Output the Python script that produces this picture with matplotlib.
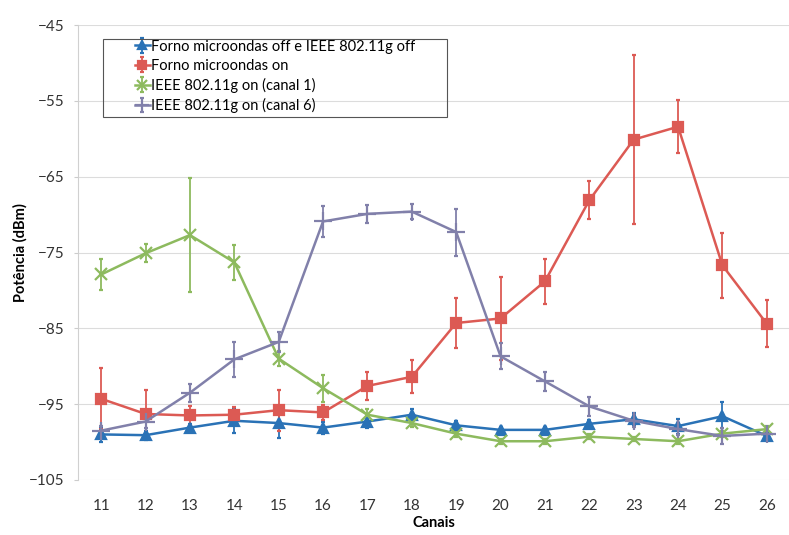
import matplotlib
matplotlib.use('Agg')
import matplotlib.pyplot as plt
from matplotlib.patches import Rectangle

plt.rcParams['font.family'] = ['Lato', 'DejaVu Sans']

# Channels (x) and mean power readings in dBm, with error half-widths
canais = list(range(11, 27))

off_mean = [-99.0, -99.1, -98.1, -97.2, -97.5, -98.1, -97.3, -96.4,
            -97.8, -98.4, -98.4, -97.6, -97.0, -97.9, -96.6, -99.2]
off_err = [1.0, 0.6, 0.5, 1.6, 2.0, 0.8, 0.8, 0.8,
           0.6, 0.4, 0.4, 0.5, 0.8, 1.0, 1.9, 0.3]

forno_mean = [-94.3, -96.3, -96.5, -96.4, -95.8, -96.1, -92.6, -91.4,
              -84.3, -83.7, -78.8, -68.1, -60.1, -58.4, -76.7, -84.4]
forno_err = [4.0, 3.2, 1.2, 1.0, 2.7, 1.0, 1.8, 2.2,
             3.3, 5.5, 3.0, 2.5, 11.2, 3.5, 4.3, 3.1]

canal1_mean = [-77.9, -75.1, -72.7, -76.3, -89.0, -92.9, -96.4, -97.5,
               -98.9, -99.9, -99.9, -99.3, -99.6, -99.9, -98.9, -98.3]
canal1_err = [2.0, 1.2, 7.5, 2.3, 1.0, 1.8, 0.7, 0.5,
              0.4, 0.3, 0.3, 0.3, 0.3, 0.3, 0.4, 0.4]

canal6_mean = [-98.5, -97.3, -93.5, -89.1, -86.8, -70.9, -69.9, -69.6,
               -72.3, -88.7, -92.0, -95.3, -97.2, -98.3, -99.2, -98.9]
canal6_err = [0.6, 0.8, 1.2, 2.3, 1.3, 2.0, 1.2, 1.0,
              3.1, 1.7, 1.3, 1.3, 0.8, 0.8, 1.0, 0.5]

series = [
    ("Forno microondas off e IEEE 802.11g off", off_mean, off_err, '#2A72B6', '^', 7),
    ("Forno microondas on", forno_mean, forno_err, '#DC5A54', 's', 7.5),
    ("IEEE 802.11g on (canal 1)", canal1_mean, canal1_err, '#8DBA5E', 'x', 9),
    ("IEEE 802.11g on (canal 6)", canal6_mean, canal6_err, '#8180AA', '+', 13),
]

fig = plt.figure(figsize=(7.89, 5.35), dpi=100)
ax = fig.add_axes([0.099, 0.103, 0.901, 0.850])

for label, mean, err, color, marker, ms in series:
    ax.errorbar(canais, mean, yerr=err, color=color, ecolor=color,
                marker=marker, markersize=ms, markeredgewidth=1.6,
                linewidth=1.8, elinewidth=1.3, capsize=1.5, label=label)

ax.set_xlim(10.48, 26.5)
ax.set_ylim(-105, -45)
ax.set_yticks(range(-105, -44, 10))
ax.set_xticks(canais)
ax.yaxis.grid(True, color='#dcdcdc', linewidth=0.8)
ax.set_axisbelow(True)

for side in ['top', 'right', 'bottom']:
    ax.spines[side].set_visible(False)
ax.spines['left'].set_color('#d0d0d0')

ax.tick_params(axis='y', length=3, color='#cccccc', pad=7, labelsize=11, labelcolor='#333333')
ax.tick_params(axis='x', length=0, pad=14, labelsize=11, labelcolor='#333333')

ax.set_ylabel("Potência (dBm)", fontsize=10.5, fontweight='bold', labelpad=1)
ax.set_xlabel("Canais", fontsize=10.5, fontweight='bold', labelpad=2)

# legend without its own frame; a wider box is drawn behind it
leg = ax.legend(loc='upper left', bbox_to_anchor=(0.074, 0.978), fontsize=10.5,
                frameon=False, handlelength=1.0, handletextpad=0.1,
                borderpad=0.3, labelspacing=0.35, borderaxespad=0,
                markerscale=0.8)
fig.patches.append(Rectangle((103 / 789, 1 - 117 / 535), 344 / 789, 78 / 535,
                             transform=fig.transFigure, fill=False,
                             edgecolor='#555555', linewidth=0.8))

fig.savefig('out.png', dpi=100)
